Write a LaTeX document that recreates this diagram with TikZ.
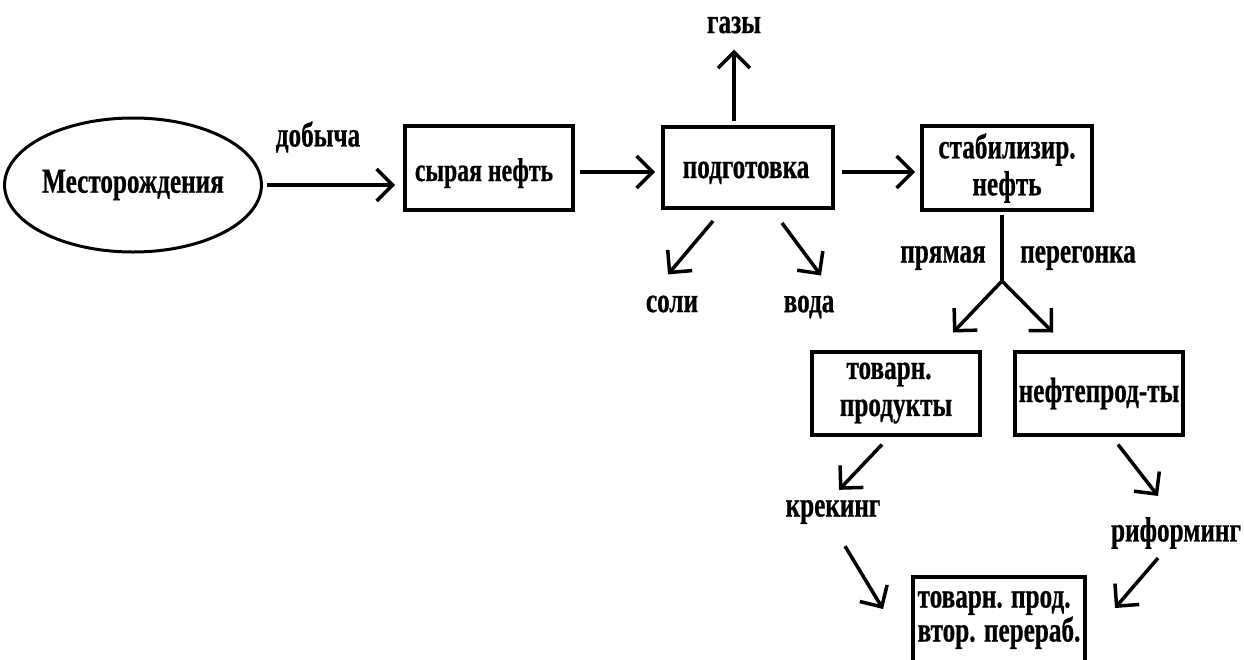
\documentclass[tikz,border=0pt]{standalone}
\usepackage{fontspec}
\setmainfont{Liberation Serif}[FakeStretch=0.72,FakeBold=0.6]
\usetikzlibrary{arrows.meta,shapes.geometric,calc}
\tikzset{
  txt/.style={font=\bfseries\fontsize{35}{37}\selectfont, inner sep=0pt},
  box/.style={txt, draw, line width=4pt, align=center},
  frame/.style={draw, line width=4pt, inner sep=0pt},
  arr/.style={line width=3.5pt, -{Straight Barb[length=16pt,width=32pt,line width=3.5pt]}},
  ln/.style={line width=3.5pt}
}
\begin{document}
\begin{tikzpicture}[x=1pt,y=-1pt]
\useasboundingbox[fill=white] (0,0) rectangle (1244,659);
\node[txt, draw, ellipse, line width=3pt, minimum width=250, minimum height=134] (mest) at (133,185) {Месторождения};
\node[frame, minimum width=168, minimum height=84] (syr) at (489,168) {};
\node[txt, anchor=base, font=\bfseries\fontsize{33}{35}\selectfont] (syrt) at ($(syr.center)+(-5,13)$) {сырая нефть};
\node[frame, minimum width=170, minimum height=81] (pod) at (748,167.5) {};
\node[txt, anchor=base] (podt) at ($(pod.center)+(-2,10.5)$) {подготовка};
\node[box, minimum width=170, minimum height=84] (stab) at (1007,168) {стабилизир.\\нефть};
\node[box, minimum width=168, minimum height=83] (tov) at (896,393) {\hspace*{-14pt}товарн.\\продукты};
\node[frame, minimum width=168, minimum height=83] (nef) at (1099,393) {};
\node[txt, anchor=base] (neft) at ($(nef.center)+(0,9)$) {нефтепрод-ты};
\node[box, minimum width=172, minimum height=86, align=left] (fin) at (999,620) {товарн. прод.\\[-3pt]втор. перераб.};

\node[txt] (dob) at (318,137) {добыча};
\node[txt] (gaz) at (734,25) {газы};
\node[txt] (sol) at (672,304) {соли};
\node[txt] (vod) at (809,307) {вода};
\node[txt] (pry) at (943,258) {прямая};
\node[txt] (per) at (1078,258) {перегонка};
\node[txt] (kre) at (833,512) {крекинг};
\node[txt] (rif) at (1176,533) {риформинг};
\coordinate (fork) at (1002,281);

\draw[arr] ($(mest.east)+(4,0)$) -- ($(syr.west |- mest.east)+(-8,0)$);
\draw[arr] ($(syr.east)+(5,4)$) -- ($(pod.west)+(-6,4.5)$);
\draw[arr] ($(pod.east)+(7,4.5)$) -- ($(stab.west)+(-5,4)$);
\draw[arr] ($(pod.north)+(-14,-4)$) -- ($(gaz.south)+(0,16)$);
\draw[arr] ($(pod.south)+(-35,11)$) -- ($(sol.north)+(-4,-21)$);
\draw[arr] ($(pod.south)+(34,13)$) -- ($(vod.north)+(12,-20)$);
\draw[ln] ($(stab.south)+(-5,3)$) -- (fork);
\draw[arr] (fork) -- ($(tov.north)+(57,-17)$);
\draw[arr] (fork) -- ($(nef.north)+(-46,-17)$);
\draw[arr] ($(tov.south)+(-14,8)$) -- ($(kre.north)+(6,-10)$);
\draw[arr] ($(nef.south)+(19,8)$) -- ($(rif.north)+(-18,-21)$);
\draw[arr] ($(kre.south)+(12,22)$) -- ($(fin.west)+(-28,-11)$);
\draw[arr] ($(rif.south)+(-18,9)$) -- ($(fin.east)+(28,-12)$);
\end{tikzpicture}
\end{document}
